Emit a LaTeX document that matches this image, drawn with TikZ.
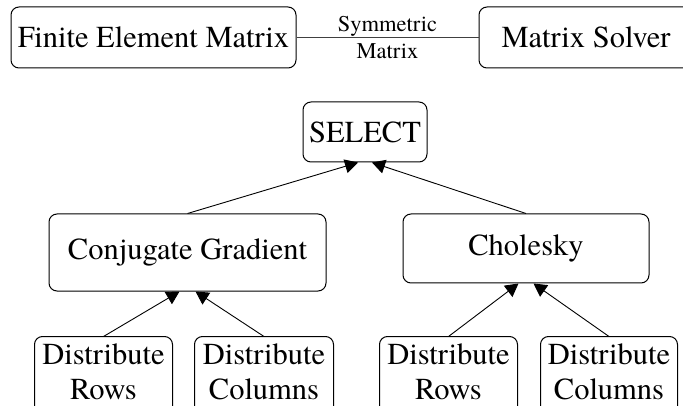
\documentclass[tikz,border=0pt]{standalone}
\usepackage{fontspec}
\setmainfont{texgyretermes-regular.otf}
\usetikzlibrary{arrows.meta,calc}

\tikzset{
  frame/.style={draw=black, line width=1pt, rounded corners=8pt},
  box/.style={frame, align=center, inner sep=0pt,
    font=\rmfamily\fontsize{30.5}{35}\selectfont},
  % bottom-row text nodes stay on the page; their outlines run past the lower edge
  lowbox/.style={box, draw=none, minimum height=69pt},
  link/.style={draw=black!75, line width=1.3pt},
  lbl/.style={align=center, font=\rmfamily\fontsize{22.5}{27}\selectfont},
  arr/.style={draw=black, line width=0.9pt, -{Triangle[length=13pt,width=14pt]}}
}

\begin{document}
\begin{tikzpicture}[x=1pt,y=-1pt]
  \useasboundingbox (0,0) rectangle (683,406);

  % top row
  \node[box, minimum width=285pt, minimum height=61pt] (fem) at (153.5,37.5) {Finite Element Matrix};
  \node[box, minimum width=214pt, minimum height=61pt] (solver) at (586,37.5) {Matrix Solver};
  \draw[link] (fem.east) -- node[lbl] (sym) {Symmetric\\Matrix} (solver.west);

  % selection tree
  \node[box, minimum width=124pt, minimum height=60pt] (select) at (365,132) {SELECT};
  \node[box, minimum width=277pt, minimum height=77pt] (cg) at (187.5,252.5) {Conjugate Gradient};
  \node[box, minimum width=246pt, minimum height=69pt] (chol) at (526,248.5) {Cholesky};

  \node[lowbox, minimum width=137pt] (dr1) at (103.5,371.5) {Distribute\\Rows};
  \node[lowbox, minimum width=138pt] (dc1) at (264,371.5) {Distribute\\Columns};
  \node[lowbox, minimum width=137pt] (dr2) at (448.5,371.5) {Distribute\\Rows};
  \node[lowbox, minimum width=136pt] (dc2) at (609,371.5) {Distribute\\Columns};
  \foreach \n in {dr1,dc1,dr2,dc2}
    \draw[frame] (\n.north west) rectangle ($(\n.south east)+(0,8)$);

  % edges
  \draw[arr] (cg.north) -- ($(select.south)+(-7,0)$);
  \draw[arr] (chol.north) -- ($(select.south)+(7,0)$);
  \draw[arr] (dr1.north) -- ($(cg.south)+(-8,0)$);
  \draw[arr] (dc1.north) -- ($(cg.south)+(8,0)$);
  \draw[arr] (dr2.north) -- ($(chol.south)+(-7.5,0)$);
  \draw[arr] (dc2.north) -- ($(chol.south)+(7.5,0)$);
\end{tikzpicture}
\end{document}
